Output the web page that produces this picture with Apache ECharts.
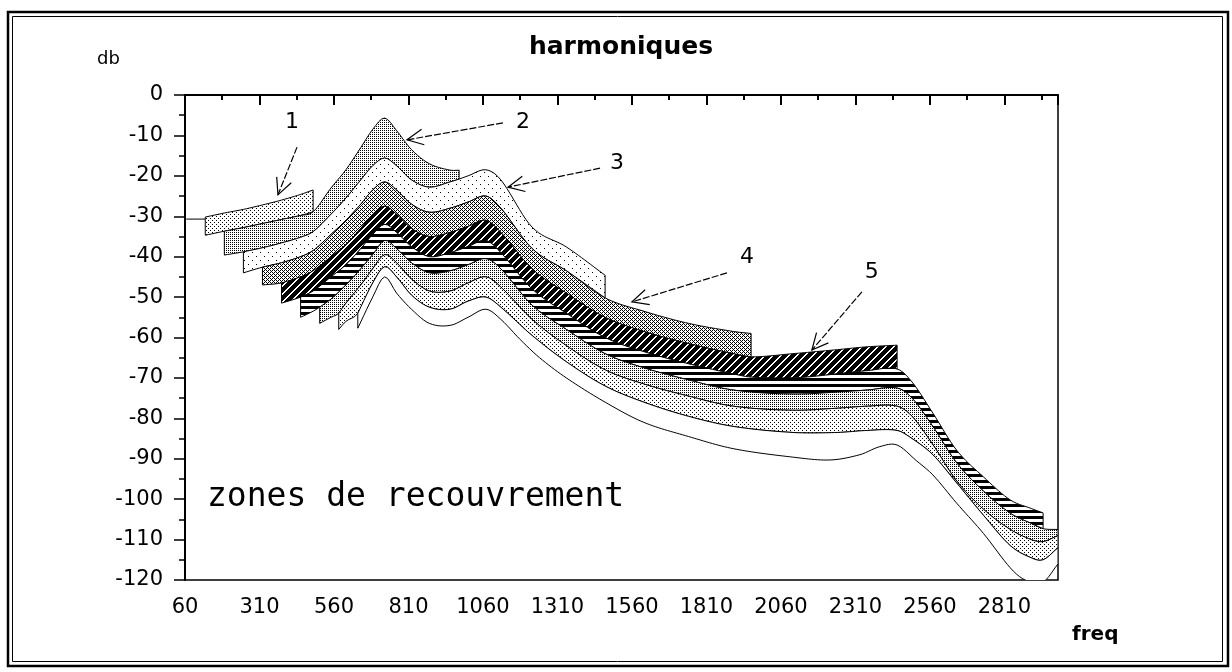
<!DOCTYPE html>
<html>
<head>
<meta charset="utf-8">
<script src="https://cdn.jsdelivr.net/npm/echarts@6/dist/echarts.min.js"></script>
<style>
  html, body { margin: 0; padding: 0; background: #fff; }
  #chart { width: 1232px; height: 672px; }
</style>
</head>
<body>
<div id="chart"></div>
<script>
// Tick labels of the frequency axis
const xTickLabels = [60, 310, 560, 810, 1060, 1310, 1560, 1810, 2060, 2310, 2560, 2810];

// Frequency span (Hz) covered by each harmonic band 1..9
const bandStart = [128, 192, 256, 320, 384, 448, 512, 576, 640];
const bandEnd   = [490, 980, 1470, 1960, 2450, 2940, 2990, 2990, 2990];

// Level of harmonic 1 below its band (Hz, dB)
const leadIn = [[64, -30.7], [128, -30.7]];

// Band boundaries [freq, dB]: band k lies between L(k-1) and L(k)
const L0 = [[128,-30.2],[192,-29.2],[256,-28.3],[320,-27.2],[384,-26],[448,-24.6],[490,-23.5]];
const L1 = [[128,-34.7],[192,-33.7],[256,-32.8],[320,-31.8],[384,-30.8],[448,-29.8],[490,-28.9],
  [550,-23],[600,-18.5],[650,-13],[690,-8.5],[730,-5.7],[770,-8.8],[820,-13.5],[880,-17],[950,-18.6],[980,-18.6]];
const L2 = [[192,-39.6],[256,-38.8],[320,-37.8],[384,-36.6],[448,-35.2],[490,-33.8],[550,-29.5],[600,-25.5],
  [650,-21],[690,-17.5],[730,-15.6],[770,-17.5],[820,-21],[880,-22.8],[950,-21.5],[980,-20.8],[1010,-20],
  [1070,-18.5],[1120,-21],[1225,-32.7],[1340,-37.6],[1470,-44.6]];
const L3 = [[256,-44],[320,-42.6],[384,-41.5],[448,-40],[490,-38.5],[550,-34.5],[600,-31],[650,-27],[690,-23.5],
  [730,-21.5],[770,-23.5],[820,-27],[880,-29],[950,-28],[1010,-26.5],[1070,-25],[1120,-28],[1225,-38],
  [1340,-43.5],[1470,-50.2],[1600,-53.5],[1750,-56.5],[1900,-58.5],[1960,-59]];
const L4 = [[320,-47],[384,-46.5],[448,-45],[490,-43.5],[550,-40],[600,-37],[650,-33],[690,-29.5],[730,-27.5],
  [770,-29.5],[820,-33],[880,-35],[950,-34],[1010,-32.5],[1070,-31],[1120,-34],[1225,-43],[1340,-49],
  [1470,-55],[1600,-58.5],[1750,-61.5],[1900,-64],[1960,-64.8],[2100,-64],[2250,-63],[2350,-62.3],[2450,-61.9]];
const L5 = [[384,-51.5],[448,-50],[490,-48.5],[550,-45],[600,-42],[650,-38],[690,-34.5],[730,-32],[770,-34],
  [820,-37.5],[880,-40],[950,-39],[1010,-37.5],[1070,-36],[1120,-39],[1225,-48],[1340,-54],[1470,-60],
  [1600,-63.5],[1750,-66.5],[1900,-69],[1960,-69.8],[2100,-70],[2250,-69],[2350,-68.2],[2450,-67.8],
  [2500,-71],[2570,-78.7],[2650,-87.9],[2740,-94.5],[2830,-100.2],[2900,-102.3],[2940,-103.4]];
const L6 = [[448,-55],[490,-53.5],[512,-52.5],[550,-50.5],[600,-47],[650,-43],[690,-39.5],[730,-36],[770,-38],
  [820,-41.5],[880,-44],[950,-43.5],[1010,-42],[1070,-40.5],[1120,-43],[1225,-52],[1340,-58],[1470,-64],
  [1600,-67.5],[1750,-70.5],[1900,-73],[2100,-74],[2250,-73.5],[2350,-73],[2450,-72.5],[2500,-75],
  [2570,-82],[2650,-91],[2740,-98],[2830,-103.5],[2900,-106],[2940,-107.3],[2990,-107.5]];
const L7 = [[512,-56.5],[550,-55],[576,-54],[600,-51.5],[650,-47],[690,-43],[730,-39.5],[770,-41.5],[820,-45.5],
  [880,-48.5],[950,-48.5],[1010,-46.5],[1070,-45],[1120,-47.5],[1225,-55.5],[1340,-62],[1470,-68],
  [1600,-71.5],[1750,-74.5],[1900,-77],[2100,-78],[2250,-77.5],[2350,-77],[2450,-77],[2500,-79.5],
  [2570,-86.5],[2650,-95.5],[2740,-102.5],[2830,-107.5],[2900,-110],[2940,-110.5],[2990,-109]];
const L8 = [[576,-58],[600,-56],[640,-54],[690,-46.5],[730,-42.5],[770,-45],[820,-49.5],[880,-52.5],[950,-53],
  [1010,-51],[1070,-50],[1120,-52.5],[1225,-59.5],[1340,-66],[1470,-72],[1600,-76],[1750,-79.5],
  [1900,-82],[2100,-83.5],[2250,-83.5],[2350,-83],[2450,-83],[2500,-85],[2570,-89],[2650,-96],
  [2740,-104],[2830,-111.5],[2900,-114.5],[2940,-115],[2990,-112]];
const L9 = [[640,-57.7],[690,-50],[730,-45],[770,-49],[820,-53],[880,-56.5],[950,-57],[1010,-55],[1070,-53],
  [1120,-55.5],[1185,-60.5],[1250,-65],[1340,-70],[1470,-76],[1600,-81],[1750,-84.5],[1900,-87.5],
  [2100,-89.6],[2225,-90.3],[2325,-89],[2392,-87],[2450,-86.6],[2515,-90.5],[2570,-94],[2650,-101],
  [2740,-108.5],[2830,-117],[2880,-120],[2940,-120.5],[2990,-116]];
const boundaries = [L0, L1, L2, L3, L4, L5, L6, L7, L8, L9];

// Callouts naming the harmonics
const calloutLabels = ['1', '2', '3', '4', '5'];
const calloutText = [[419, -6.7], [1194, -6.7], [1510, -16.8], [1946, -40.1], [2365, -43.8]];
const calloutTail = [[436, -12.9], [1127, -6.9], [1453, -18.1], [1879, -44.0], [2332, -48.7]];
const calloutHead = [[372, -24.7], [805, -11.1], [1144, -22.8], [1560, -51.2], [2164, -63.1]];

// Bitmap fill tiles
function tile(w, h, cells, bg) {
  const c = document.createElement('canvas');
  c.width = w; c.height = h;
  const g = c.getContext('2d');
  g.fillStyle = bg || '#fff';
  g.fillRect(0, 0, w, h);
  g.fillStyle = '#000';
  cells.forEach(function (p) { g.fillRect(p[0], p[1], p[2] || 1, p[3] || 1); });
  return { image: c, repeat: 'repeat' };
}
function diagTile() {
  const c = document.createElement('canvas');
  c.width = 8; c.height = 8;
  const g = c.getContext('2d');
  g.fillStyle = '#000'; g.fillRect(0, 0, 8, 8);
  g.fillStyle = '#fff';
  for (let i = 0; i < 8; i++) { g.fillRect(i, 7 - i, 1, 1); g.fillRect((i + 1) % 8, 7 - i, 1, 1); }
  return { image: c, repeat: 'repeat' };
}
const sparse = tile(4, 4, [[0, 0], [2, 2]]);
const dense = tile(2, 2, [[0, 0]]);
const faint = tile(8, 8, [[0, 0], [4, 4]]);
const grid = tile(4, 4, [[0, 0], [2, 0], [0, 2], [2, 2], [1, 1], [3, 3]]);
const diag = diagTile();
const horiz = tile(1, 6, [[0, 0, 1, 3]]);
const bandFills = [sparse, dense, faint, grid, diag, horiz, dense, sparse, '#fff'];

// Smooth edge through pixel points: cubic Hermite in x with cardinal slopes
function smoothEdge(pts) {
  if (pts.length < 3) return pts.slice();
  const n = pts.length, m = [];
  for (let i = 0; i < n; i++) {
    const a = pts[Math.max(0, i - 1)], b = pts[Math.min(n - 1, i + 1)];
    m.push((b[1] - a[1]) / (b[0] - a[0]));
  }
  const out = [];
  for (let i = 0; i < n - 1; i++) {
    const p = pts[i], q = pts[i + 1], h = q[0] - p[0];
    const steps = Math.max(2, Math.round(h / 3));
    for (let j = 0; j < steps; j++) {
      const t = j / steps, t2 = t * t, t3 = t2 * t;
      const y = (2 * t3 - 3 * t2 + 1) * p[1] + (t3 - 2 * t2 + t) * h * m[i] +
                (-2 * t3 + 3 * t2) * q[1] + (t3 - t2) * h * m[i + 1];
      out.push([p[0] + t * h, y]);
    }
  }
  out.push(pts[n - 1]);
  return out;
}

function bandItem(params, api) {
  const k = params.dataIndex;
  const s = bandStart[k], e = bandEnd[k];
  const inSpan = function (p) { return p[0] >= s && p[0] <= e; };
  const top = smoothEdge(boundaries[k].filter(inSpan).map(function (p) { return api.coord(p); }));
  const bot = smoothEdge(boundaries[k + 1].filter(inSpan).map(function (p) { return api.coord(p); })).reverse();
  return {
    type: 'polygon',
    shape: { points: top.concat(bot) },
    style: { fill: bandFills[k], stroke: '#000', lineWidth: 1 }
  };
}

function calloutItem(params, api) {
  const k = params.dataIndex;
  const t = api.coord(calloutText[k]);
  const a = api.coord(calloutTail[k]);
  const b = api.coord(calloutHead[k]);
  const ang = Math.atan2(a[1] - b[1], a[0] - b[0]);
  const len = 18, spread = 0.45;
  const p1 = [b[0] + len * Math.cos(ang + spread), b[1] + len * Math.sin(ang + spread)];
  const p2 = [b[0] + len * Math.cos(ang - spread), b[1] + len * Math.sin(ang - spread)];
  return {
    type: 'group',
    children: [
      { type: 'line', shape: { x1: a[0], y1: a[1], x2: b[0], y2: b[1] }, style: { stroke: '#000', lineWidth: 1.2, lineDash: [7, 2] } },
      { type: 'polyline', shape: { points: [p1, b, p2] }, style: { stroke: '#000', fill: null, lineWidth: 1.2 } },
      { type: 'text', x: t[0], y: t[1], style: { text: calloutLabels[k], font: '22px "DejaVu Sans"', fill: '#000', align: 'center', verticalAlign: 'middle' } }
    ]
  };
}

const chart = echarts.init(document.getElementById('chart'), null, { renderer: 'canvas' });
chart.setOption({
  animation: false,
  backgroundColor: '#fff',
  grid: { left: 185, top: 95, right: 174, bottom: 92, show: true, borderColor: '#000', borderWidth: 1.5 },
  xAxis: {
    type: 'value', min: 60, max: 2990, interval: 250,
    axisLine: { lineStyle: { color: '#000', width: 2 } },
    axisTick: { length: 10, lineStyle: { color: '#000', width: 2 } },
    minorTick: { show: true, splitNumber: 2, length: 5, lineStyle: { color: '#000', width: 2 } },
    splitLine: { show: false },
    axisLabel: {
      margin: 17, color: '#000', fontSize: 21, fontFamily: 'DejaVu Sans',
      formatter: function (v) { return xTickLabels.indexOf(v) >= 0 ? String(v) : ''; }
    }
  },
  yAxis: {
    type: 'value', min: -120, max: 0, interval: 10,
    axisLine: { lineStyle: { color: '#000', width: 2 } },
    axisTick: { length: 11, lineStyle: { color: '#000', width: 1.5 } },
    minorTick: { show: true, splitNumber: 2, length: 6, lineStyle: { color: '#000', width: 1.5 } },
    splitLine: { show: false },
    axisLabel: { margin: 22, color: '#000', fontSize: 21, fontFamily: 'DejaVu Sans' }
  },
  series: [
    {
      type: 'custom', name: 'bands', clip: true, silent: true,
      data: bandStart.map(function (s, i) { return [s, -60, i]; }),
      renderItem: bandItem
    },
    {
      type: 'line', name: 'lead', data: leadIn, symbol: 'none', silent: true,
      lineStyle: { color: '#000', width: 1 }
    },
    {
      type: 'custom', name: 'callouts', silent: true,
      data: calloutLabels.map(function (l, i) { return [calloutText[i][0], calloutText[i][1], i]; }),
      renderItem: calloutItem
    }
  ],
  graphic: [
    { type: 'rect', shape: { x: 8, y: 12, width: 1220, height: 654 }, style: { fill: null, stroke: '#000', lineWidth: 2.5 }, silent: true },
    { type: 'rect', shape: { x: 12.5, y: 16.5, width: 1210, height: 645 }, style: { fill: null, stroke: '#000', lineWidth: 1 }, silent: true },
    { type: 'text', x: 621, y: 35, style: { text: 'harmoniques', font: 'bold 25px "DejaVu Sans"', fill: '#000', align: 'center', verticalAlign: 'top' } },
    { type: 'text', x: 97, y: 50, style: { text: 'db', font: '18px "DejaVu Sans"', fill: '#000', align: 'left', verticalAlign: 'top' } },
    { type: 'text', x: 1072, y: 625, style: { text: 'freq', font: 'bold 20px "DejaVu Sans"', fill: '#000', align: 'left', verticalAlign: 'top' } },
    { type: 'text', x: 207, y: 481, style: { text: 'zones de recouvrement', font: '33px "DejaVu Sans Mono"', fill: '#000', align: 'left', verticalAlign: 'top' } }
  ]
});
</script>
</body>
</html>
